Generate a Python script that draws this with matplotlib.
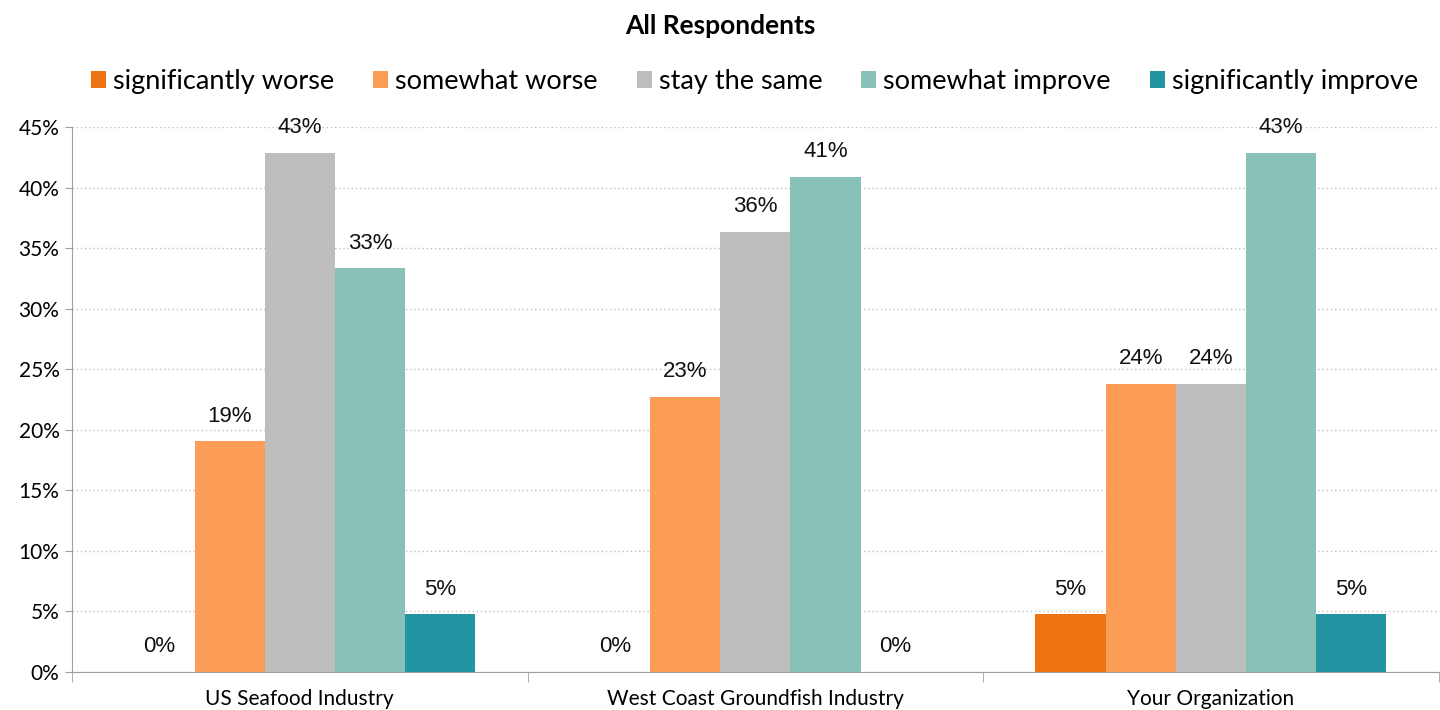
import numpy as np
import matplotlib.pyplot as plt
from matplotlib.ticker import PercentFormatter, FixedLocator

groups = ['US Seafood Industry', 'West Coast Groundfish Industry', 'Your Organization']
answers = ['significantly worse', 'somewhat worse', 'stay the same',
           'somewhat improve', 'significantly improve']
# share of respondents per answer, one list per answer (in %)
sig_worse = [0.0, 0.0, 4.76]
some_worse = [19.05, 22.73, 23.81]
same = [42.86, 36.36, 23.81]
some_improve = [33.33, 40.91, 42.86]
sig_improve = [4.76, 0.0, 4.76]
series = [sig_worse, some_worse, same, some_improve, sig_improve]
colors = ['#EE7311', '#FB9C57', '#BEBEBE', '#87C1B7', '#2294A2']

plt.rcParams['font.family'] = ['Lato', 'DejaVu Sans']

fig = plt.figure(figsize=(14.4, 7.1), dpi=100)
ax = fig.add_axes([0.05, 0.0535, 0.949, 0.7675])

x = np.arange(len(groups))
w = 0.154
for i, (vals, c, name) in enumerate(zip(series, colors, answers)):
    pos = x + (i - 2) * w
    ax.bar(pos, vals, width=w, color=c, label=name, zorder=3)
    for px, v in zip(pos, vals):
        ax.text(px, v + 1.2, f'{v:.0f}%', ha='center', va='bottom',
                fontsize=16, family='Liberation Sans', color='#111111')

ax.set_xlim(-0.5, 2.5)
ax.set_ylim(0, 45)
ax.set_yticks(np.arange(0, 46, 5))
ax.yaxis.set_major_formatter(PercentFormatter(decimals=0))
ax.set_xticks(x)
ax.set_xticklabels(groups, fontsize=15)
ax.xaxis.set_minor_locator(FixedLocator([-0.5, 0.5, 1.5, 2.5]))
ax.tick_params(axis='x', which='major', length=0, pad=12)
ax.tick_params(axis='x', which='minor', length=7, color='#A0A0A0')
ax.tick_params(axis='y', labelsize=15, length=5, color='#A0A0A0', pad=4)
ax.grid(axis='y', linestyle=(0, (1, 2)), color='#BFBFBF', linewidth=1, zorder=0)
for s in ['top', 'right']:
    ax.spines[s].set_visible(False)
for s in ['left', 'bottom']:
    ax.spines[s].set_color('#A0A0A0')

fig.text(0.5, 0.963, 'All Respondents', ha='center', va='center',
         fontsize=19, fontweight='bold')
fig.legend(loc='center', bbox_to_anchor=(0.524, 0.885), ncol=5, frameon=False,
           fontsize=19.5, handlelength=0.55, handleheight=0.55, handletextpad=0.25,
           columnspacing=1.45)

fig.savefig('out.png', dpi=100)
